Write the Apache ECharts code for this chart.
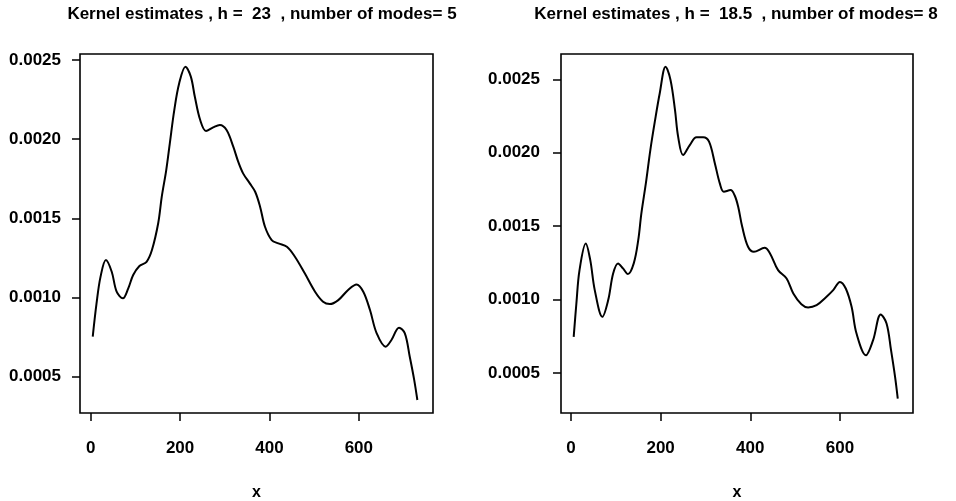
<!DOCTYPE html>
<html>
<head>
<meta charset="utf-8">
<script src="https://cdn.jsdelivr.net/npm/echarts@6/dist/echarts.min.js"></script>
<style>html,body{margin:0;padding:0;background:#fff}#c{width:956px;height:501px}</style>
</head>
<body>
<div id="c"></div>
<script>
var titles = ['Kernel estimates , h =  23  , number of modes= 5', 'Kernel estimates , h =  18.5  , number of modes= 8'];
var xTicks = [0, 200, 400, 600];
var yTicks = [0.0005, 0.0010, 0.0015, 0.0020, 0.0025];
var xName = 'x';

var leftX = [4.5,13,22,34,47,58,72,84,95,109,125,137,151,159,169,177,187,198,212,224,233,245,258,274,289,304,319,330,341,356,368,379,390,405,420,439,457,479,502,520,535,554,576,595,610,625,640,660,673,690,703,714,724,731];
var leftY = [0.000753,0.000963,0.001132,0.001237,0.001163,0.001037,0.000995,0.001058,0.001142,0.001199,0.001226,0.0013,0.001469,0.001637,0.001805,0.001974,0.002184,0.002353,0.002458,0.002395,0.002268,0.002121,0.002052,0.002075,0.00209,0.002058,0.001953,0.001858,0.001784,0.001721,0.001668,0.001574,0.001447,0.001363,0.001342,0.001321,0.001258,0.001153,0.001037,0.000974,0.000959,0.000984,0.001048,0.001083,0.001037,0.000921,0.000774,0.00069,0.000732,0.00081,0.000774,0.000626,0.000479,0.000353];

var rightX = [6,12,19,33,43,53,70,83,94,105,116,127,140,150,157,167,177,187,198,211,222,232,239,250,265,280,295,308,321,332,341,356,365,373,382,395,408,432,444,462,481,496,514,529,548,566,585,600,613,626,637,658,674,691,704,714,723,729];
var rightY = [0.000745,0.000973,0.0012,0.001382,0.001268,0.001064,0.000882,0.000996,0.001177,0.001246,0.001212,0.001173,0.001246,0.001404,0.001587,0.001791,0.002018,0.002211,0.002405,0.002586,0.002495,0.002291,0.002109,0.001984,0.002052,0.002105,0.002105,0.002075,0.001927,0.001791,0.001734,0.001745,0.00171,0.001632,0.001495,0.001359,0.001325,0.001352,0.001314,0.0012,0.001143,0.001041,0.000968,0.000946,0.000961,0.001007,0.001064,0.00112,0.001075,0.00095,0.000768,0.00062,0.000723,0.000898,0.000837,0.000655,0.000473,0.000325];

function pairs(xs, ys) { return xs.map(function (x, i) { return [x, ys[i]]; }); }

var FONT = '"Liberation Sans", Arial, Helvetica, sans-serif';
var labelStyle = { color: '#000', fontFamily: FONT, fontWeight: 'bold', fontSize: 17 };

function xAxis(idx, min, max) {
  return {
    type: 'value', gridIndex: idx, min: min, max: max,
    name: xName, nameLocation: 'middle', nameGap: 72,
    nameTextStyle: { color: '#000', fontFamily: FONT, fontWeight: 'bold', fontSize: 16 },
    axisLine: { show: false, onZero: false },
    axisTick: { show: true, inside: false, length: 8, customValues: xTicks, lineStyle: { color: '#000', width: 1.5 } },
    axisLabel: Object.assign({ margin: 27, customValues: xTicks }, labelStyle),
    splitLine: { show: false }
  };
}
function yAxis(idx, min, max, margin) {
  return {
    type: 'value', gridIndex: idx, min: min, max: max,
    axisLine: { show: false, onZero: false },
    axisTick: { show: true, inside: false, length: 8, customValues: yTicks, lineStyle: { color: '#000', width: 1.5 } },
    axisLabel: Object.assign({ margin: margin, customValues: yTicks, formatter: function (v) { return v.toFixed(4); } }, labelStyle),
    splitLine: { show: false }
  };
}

var chart = echarts.init(document.getElementById('c'), null, { renderer: 'canvas' });
chart.setOption({
  animation: false,
  backgroundColor: '#fff',
  title: [
    { text: titles[0], left: 257, top: 1, textAlign: 'center',
      textStyle: { color: '#000', fontFamily: FONT, fontWeight: 'bold', fontSize: 17 } },
    { text: titles[1], left: 731, top: 1, textAlign: 'center',
      textStyle: { color: '#000', fontFamily: FONT, fontWeight: 'bold', fontSize: 17 } }
  ],
  grid: [
    { left: 80, top: 54, width: 353, height: 359, show: true, borderColor: '#000', borderWidth: 1.6, backgroundColor: 'transparent', containLabel: false, outerBoundsMode: 'none' },
    { left: 561, top: 54, width: 352, height: 359, show: true, borderColor: '#000', borderWidth: 1.6, backgroundColor: 'transparent', containLabel: false, outerBoundsMode: 'none' }
  ],
  xAxis: [xAxis(0, -24, 766), xAxis(1, -22.3, 763)],
  yAxis: [yAxis(0, 0.000271, 0.002538, 19), yAxis(1, 0.000227, 0.002672, 21)],
  series: [
    { type: 'line', xAxisIndex: 0, yAxisIndex: 0, data: pairs(leftX, leftY), smooth: 0.35, showSymbol: false,
      lineStyle: { color: '#000', width: 2 } },
    { type: 'line', xAxisIndex: 1, yAxisIndex: 1, data: pairs(rightX, rightY), smooth: 0.35, showSymbol: false,
      lineStyle: { color: '#000', width: 2 } }
  ]
});
</script>
</body>
</html>
